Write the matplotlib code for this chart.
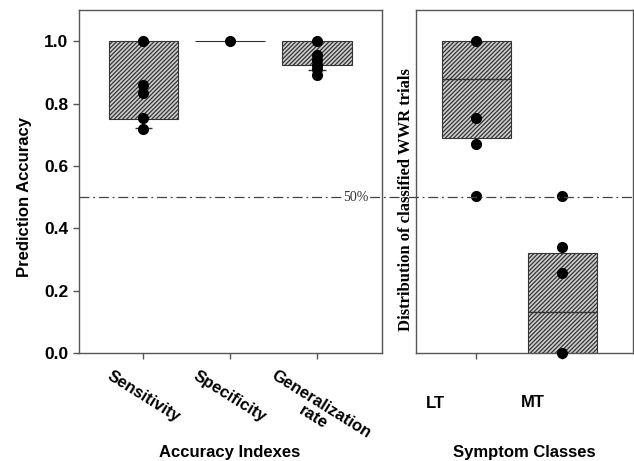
import numpy as np
import matplotlib
matplotlib.use('Agg')
import matplotlib.pyplot as plt
import matplotlib.transforms as mtransforms
from matplotlib.lines import Line2D

plt.rcParams['font.family'] = 'Liberation Sans'
plt.rcParams['hatch.linewidth'] = 0.9

# accuracy indexes (left panel)
index_names = ['Sensitivity', 'Specificity', 'Generalization\nrate']
index_box_low = [0.75, 1.0, 0.925]
index_box_high = [1.0, 1.0, 1.0]
index_caps = [0.72, None, 0.908]
index_points = [
    [1.0, 0.86, 0.835, 0.755, 0.718],
    [1.0],
    [1.0, 0.957, 0.94, 0.925, 0.91, 0.893],
]

# symptom classes (right panel)
class_names = ['LT', 'MT']
class_box_low = [0.69, 0.0]
class_box_high = [1.0, 0.32]
class_median = [0.88, 0.13]
class_points = [
    [1.0, 0.755, 0.67, 0.505],
    [0.505, 0.34, 0.255, 0.0],
]

box_face = '#cfcfcf'
box_edge = '#333333'
spine_col = '#555555'
hatch = '////////'

fig = plt.figure(figsize=(6.34, 4.61), dpi=100)
ax1 = fig.add_axes([79/634, 1-353/461, (382-79)/634, (353-10)/461])
ax2 = fig.add_axes([416/634, 1-353/461, (633-416)/634, (353-10)/461])

for ax in (ax1, ax2):
    ax.set_facecolor('none')
    for s in ax.spines.values():
        s.set_color(spine_col)
        s.set_linewidth(1.0)
    ax.set_ylim(0, 1.1)
    ax.tick_params(colors=spine_col, length=4, width=1)

# left panel
x1 = np.arange(1, len(index_names) + 1)
ax1.bar(x1, np.array(index_box_high) - np.array(index_box_low), bottom=index_box_low,
        width=0.8, color=box_face, edgecolor=box_edge, hatch=hatch, linewidth=0.8, zorder=2)
for xi, c in zip(x1, index_caps):
    if c is not None:
        ax1.hlines(c, xi - 0.1, xi + 0.1, color='#333333', lw=1, zorder=3)
for xi, pts in zip(x1, index_points):
    ax1.plot([xi] * len(pts), pts, 'o', color='black', ms=7, zorder=4)
ax1.set_xlim(0.26, 3.75)
ax1.set_xticks(x1)
ax1.set_xticklabels(index_names, rotation=-32, ha='center', va='top',
                    fontsize=12, fontweight='bold', color='black', linespacing=1.0)
ax1.tick_params(axis='x', pad=7)
ax1.set_yticks(np.arange(0, 1.01, 0.2))
ax1.set_yticklabels(['%.1f' % v for v in np.arange(0, 1.01, 0.2)],
                    fontsize=12.5, fontweight='bold', color='black')

# right panel
x2 = np.arange(1, len(class_names) + 1)
ax2.bar(x2, np.array(class_box_high) - np.array(class_box_low), bottom=class_box_low,
        width=0.8, color=box_face, edgecolor=box_edge, hatch=hatch, linewidth=0.8, zorder=2)
for xi, m in zip(x2, class_median):
    ax2.hlines(m, xi - 0.4, xi + 0.4, color='#333333', lw=1, zorder=3)
for xi, pts in zip(x2, class_points):
    ax2.plot([xi] * len(pts), pts, 'o', color='black', ms=7, zorder=4, clip_on=False)
ax2.set_xlim(0.3, 2.82)
ax2.set_xticks(x2)
ax2.set_xticklabels([])
ax2.set_yticks([])
fig.text(435/634, 1-403/461, class_names[0], ha='center', va='center', fontsize=12, fontweight='bold')
fig.text(533/634, 1-402/461, class_names[1], ha='center', va='center', fontsize=12, fontweight='bold')

# 50% reference line across both panels
trans = mtransforms.blended_transform_factory(fig.transFigure, ax1.transData)
fig.add_artist(Line2D([79/634, 633/634], [0.5, 0.5], transform=trans, color='#444444',
                      lw=0.9, ls=(0, (8, 3, 1.5, 3)), zorder=3))
t50 = fig.text(356/634, 0.5, '50%', transform=trans, ha='center', va='center', fontsize=10,
               family='Liberation Serif', color='#333333',
               bbox=dict(facecolor='white', edgecolor='none', pad=1))
t50.set_zorder(4)

# axis titles
fig.text(25/634, 1-197/461, 'Prediction Accuracy', rotation=90, ha='center', va='center',
         fontsize=12, fontweight='bold')
fig.text(406/634, 1-200/461, 'Distribution of classified WWR trials', rotation=90,
         ha='center', va='center', fontsize=12, fontweight='bold', family='Liberation Serif')
fig.text(230/634, 1-452/461, 'Accuracy Indexes', ha='center', va='center',
         fontsize=12, fontweight='bold')
fig.text(524/634, 1-452/461, 'Symptom Classes', ha='center', va='center',
         fontsize=12, fontweight='bold')

fig.savefig('out.png', dpi=100)
